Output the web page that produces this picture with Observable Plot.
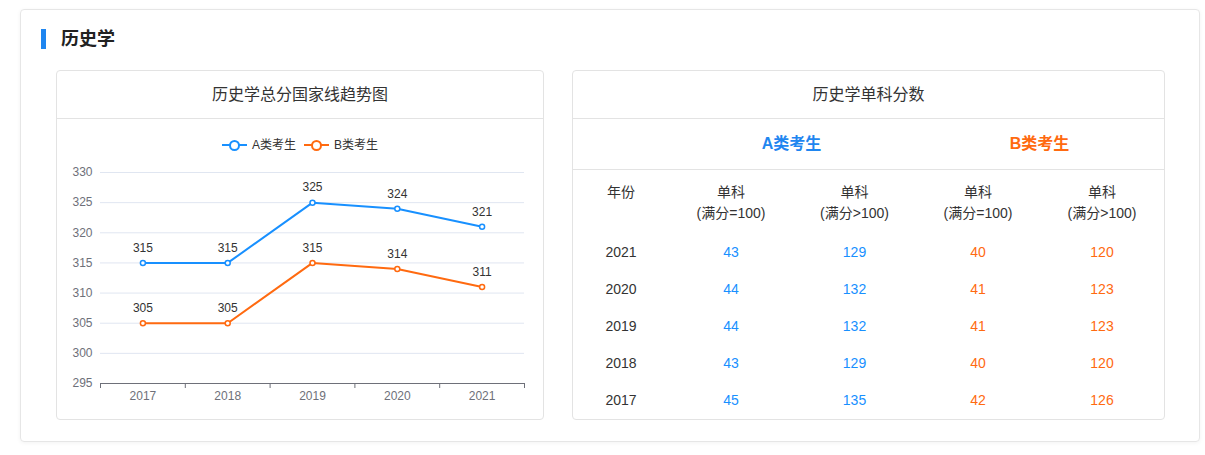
<!DOCTYPE html>
<html>
<head>
<meta charset="utf-8">
<script src="https://cdn.jsdelivr.net/npm/d3@7"></script>
<script src="https://cdn.jsdelivr.net/npm/@observablehq/plot@0.6"></script>
<style>
  html, body { margin: 0; padding: 0; background: #fff; }
  body { width: 1205px; height: 455px; position: relative; overflow: hidden;
         font-family: "Liberation Sans", "Noto Sans CJK SC", sans-serif; color: #333; }
  .abs { position: absolute; box-sizing: border-box; }
  .card { left: 20px; top: 9px; width: 1180px; height: 433px; border: 1px solid #e6e6e6; border-radius: 4px;
          box-shadow: 0 1px 4px rgba(0,0,0,0.05); }
  .bar { left: 41px; top: 29px; width: 5px; height: 20px; background: #1f86f0; }
  .title { left: 61px; top: 27px; font-size: 18px; font-weight: bold; line-height: 24px; color: #222; }
  .panel { top: 70px; height: 350px; border: 1px solid #e3e3e3; border-radius: 4px; }
  .phead { position: absolute; box-sizing: border-box; left: 0; right: 0; top: 0; height: 48px; border-bottom: 1px solid #e3e3e3;
           text-align: center; font-size: 16px; line-height: 47px; color: #333; }
  .legend { left: 57px; width: 486px; top: 137px; height: 16px; display: flex; justify-content: center;
            font-size: 12px; line-height: 16px; color: #333; }
  .litem { display: flex; align-items: center; margin: 0 4px; }
  .licon { position: relative; width: 25px; height: 16px; margin-right: 5px; }
  .licon .ln { position: absolute; left: 0; right: 0; top: 7px; height: 2px; }
  .licon .cc { position: absolute; left: 7px; top: 3px; width: 7px; height: 7px; border-radius: 50%;
               background: #fff; border: 2px solid; }
  .chart { left: 57px; top: 160px; }
  .abrow { position: absolute; box-sizing: border-box; left: 0; right: 0; top: 48px; height: 51px; border-bottom: 1px solid #e3e3e3; }
  .abrow div { position: absolute; top: 0; line-height: 50px; font-size: 16px; font-weight: bold; text-align: center; }
  table { position: absolute; left: 0; top: 99px; border-collapse: collapse; table-layout: fixed; }
  td { padding: 0; text-align: center; font-size: 14px; }
  tr.hdr td { height: 64px; vertical-align: top; padding-top: 12px; line-height: 21px; color: #333; box-sizing: border-box; }
  tr.row td { height: 37px; line-height: 37px; }
</style>
</head>
<body>
<div class="abs card"></div>
<div class="abs bar"></div>
<div class="abs title">历史学</div>

<div class="abs panel" style="left:56px;width:488px;">
  <div class="phead">历史学总分国家线趋势图</div>
</div>
<div class="abs legend" id="legend"></div>
<div class="abs chart" id="chart"></div>

<div class="abs panel" id="rpanel" style="left:572px;width:593px;">
  <div class="phead">历史学单科分数</div>
  <div class="abrow">
    <div style="left:95px;width:247px;color:#1f86f0;">A类考生</div>
    <div style="left:342px;width:249px;color:#ff6a10;">B类考生</div>
  </div>
</div>

<script>
// ---- data ----
const years = [2017, 2018, 2019, 2020, 2021];
const seriesNames = ["A类考生", "B类考生"];
const scoreA = [315, 315, 325, 324, 321];
const scoreB = [305, 305, 315, 314, 311];
const yTicks = [295, 300, 305, 310, 315, 320, 325, 330];

const tableTitle = "历史学单科分数";
const headerLabels = ["年份", "单科<br>(满分=100)", "单科<br>(满分&gt;100)", "单科<br>(满分=100)", "单科<br>(满分&gt;100)"];
const tableYears = [2021, 2020, 2019, 2018, 2017];
const aSingle100 = [43, 44, 44, 43, 45];
const aSingleOver = [129, 132, 132, 129, 135];
const bSingle100 = [40, 41, 41, 40, 42];
const bSingleOver = [120, 123, 123, 120, 126];

const blue = "#1890ff";
const orange = "#ff6a10";
const colors = [blue, orange];

// ---- legend ----
const legend = document.getElementById("legend");
seriesNames.forEach((name, i) => {
  const item = document.createElement("div");
  item.className = "litem";
  item.innerHTML = `<span class="licon"><span class="ln" style="background:${colors[i]}"></span><span class="cc" style="border-color:${colors[i]}"></span></span><span>${name}</span>`;
  legend.appendChild(item);
});

// ---- chart ----
const dataA = years.map((y, i) => ({year: y, v: scoreA[i]}));
const dataB = years.map((y, i) => ({year: y, v: scoreB[i]}));
const boundaries = [years[0] - 0.5, ...years.map(y => y + 0.5)];

const chart = Plot.plot({
  width: 486,
  height: 250,
  marginLeft: 43,
  marginRight: 19,
  marginTop: 12,
  marginBottom: 27,
  x: {type: "linear", domain: [boundaries[0], boundaries[boundaries.length - 1]], label: null},
  y: {domain: [yTicks[0], yTicks[yTicks.length - 1]], label: null},
  style: {fontFamily: "'Liberation Sans', 'Noto Sans CJK SC', sans-serif", fontSize: "12px", background: "transparent"},
  marks: [
    Plot.gridY(yTicks, {stroke: "#e0e6f1", strokeOpacity: 1}),
    Plot.axisY(yTicks, {tickSize: 0, tickPadding: 8, color: "#6e7079", label: null}),
    Plot.ruleY([yTicks[0]], {stroke: "#6e7079"}),
    Plot.axisX(boundaries, {tickSize: 5, tickFormat: () => "", stroke: "#6e7079", label: null}),
    Plot.axisX(years, {tickSize: 0, tickPadding: 8, tickFormat: d => String(d), color: "#6e7079", label: null}),
    Plot.lineY(dataA, {x: "year", y: "v", stroke: blue, strokeWidth: 2}),
    Plot.lineY(dataB, {x: "year", y: "v", stroke: orange, strokeWidth: 2}),
    Plot.dot(dataA, {x: "year", y: "v", r: 2.5, fill: "white", stroke: blue, strokeWidth: 1.5}),
    Plot.dot(dataB, {x: "year", y: "v", r: 2.5, fill: "white", stroke: orange, strokeWidth: 1.5}),
    Plot.text(dataA, {x: "year", y: "v", text: d => String(d.v), dy: -15, fill: "#333"}),
    Plot.text(dataB, {x: "year", y: "v", text: d => String(d.v), dy: -15, fill: "#333"})
  ]
});
document.getElementById("chart").appendChild(chart);

// ---- table ----
const colWidths = [96, 124, 123, 124, 124];
const table = document.createElement("table");
table.style.width = colWidths.reduce((a, b) => a + b, 0) + "px";
const cg = document.createElement("colgroup");
colWidths.forEach(w => { const c = document.createElement("col"); c.style.width = w + "px"; cg.appendChild(c); });
table.appendChild(cg);
const hr = document.createElement("tr");
hr.className = "hdr";
headerLabels.forEach(h => { const td = document.createElement("td"); td.innerHTML = h; hr.appendChild(td); });
table.appendChild(hr);
tableYears.forEach((yr, i) => {
  const tr = document.createElement("tr");
  tr.className = "row";
  const cells = [[yr, "#333"], [aSingle100[i], blue], [aSingleOver[i], blue], [bSingle100[i], orange], [bSingleOver[i], orange]];
  cells.forEach(([v, c]) => { const td = document.createElement("td"); td.textContent = v; td.style.color = c; tr.appendChild(td); });
  table.appendChild(tr);
});
document.getElementById("rpanel").appendChild(table);
</script>
</body>
</html>
